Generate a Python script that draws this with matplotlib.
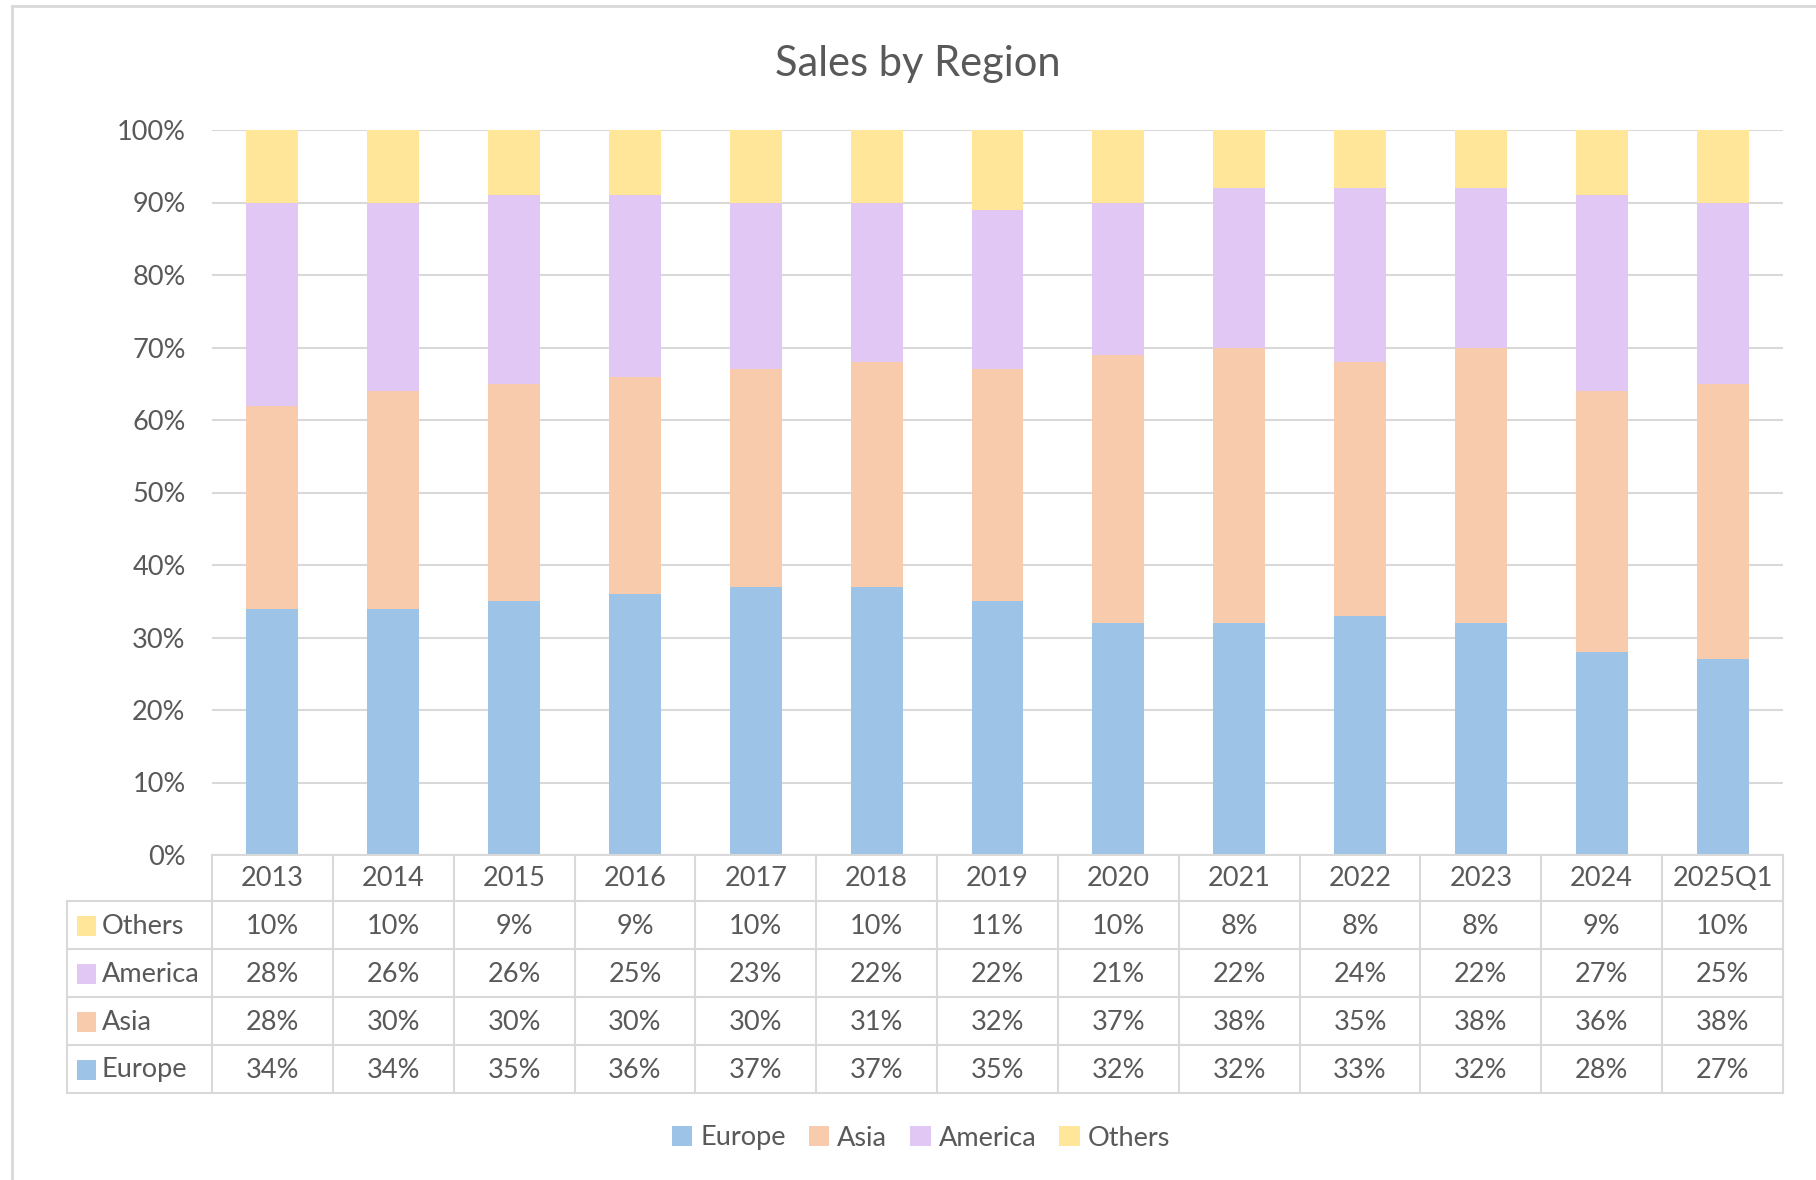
import matplotlib.pyplot as plt
from matplotlib.patches import Rectangle
from matplotlib.lines import Line2D

years = ["2013", "2014", "2015", "2016", "2017", "2018", "2019",
         "2020", "2021", "2022", "2023", "2024", "2025Q1"]
europe = [34, 34, 35, 36, 37, 37, 35, 32, 32, 33, 32, 28, 27]
asia = [28, 30, 30, 30, 30, 31, 32, 37, 38, 35, 38, 36, 38]
america = [28, 26, 26, 25, 23, 22, 22, 21, 22, 24, 22, 27, 25]
others = [10, 10, 9, 9, 10, 10, 11, 10, 8, 8, 8, 9, 10]

series = [("Europe", europe, "#9DC3E6"),
          ("Asia", asia, "#F8CBAD"),
          ("America", america, "#E1C7F3"),
          ("Others", others, "#FFE699")]

plt.rcParams["font.family"] = ["Lato", "DejaVu Sans"]
TEXT = "#595959"
GRID = "#D9D9D9"
FS = 19.5

W, H = 1816, 1180
fig = plt.figure(figsize=(W / 100, H / 100), dpi=100)


def fx(px):
    return px / W


def fy(py):
    return 1 - py / H


# outer chart border (top and left visible)
fig.add_artist(Line2D([fx(12), fx(12)], [fy(6), fy(1185)], color=GRID, lw=2))
fig.add_artist(Line2D([fx(12), fx(1820)], [fy(6), fy(6)], color=GRID, lw=2))

# plot area
left, right, top, bottom = 212, 1783, 130, 855
ax = fig.add_axes([fx(left), fy(bottom), fx(right - left), (bottom - top) / H])

n = len(years)
x = list(range(n))
base = [0] * n
for name, vals, col in series:
    ax.bar(x, vals, bottom=base, width=0.43, color=col, label=name, zorder=2)
    base = [b + v for b, v in zip(base, vals)]

ax.set_xlim(-0.5, n - 0.5)
ax.set_ylim(0, 100)
ax.set_yticks(range(0, 101, 10))
ax.set_yticklabels([f"{t}%" for t in range(0, 101, 10)], fontsize=FS, color=TEXT)
ax.set_xticks([])
ax.tick_params(axis="y", length=0, pad=19)
ax.grid(axis="y", color=GRID, lw=1.5, zorder=0)
for s in ax.spines.values():
    s.set_visible(False)

fig.text(fx(918), fy(64), "Sales by Region", ha="center", va="center",
         fontsize=30, color=TEXT)

# data table under the plot
label_left = 67
unit = (right - left) / n
row_edges = [855, 901, 949, 997, 1045, 1093]
tab_lw = 1.5


def col_x(i):
    return left + i * unit


def hline(x0, x1, y):
    fig.add_artist(Line2D([fx(x0), fx(x1)], [fy(y), fy(y)], color=GRID, lw=tab_lw))


def vline(x, y0, y1):
    fig.add_artist(Line2D([fx(x), fx(x)], [fy(y0), fy(y1)], color=GRID, lw=tab_lw))


hline(left, right, row_edges[0])
for y in row_edges[1:]:
    hline(label_left, right, y)
vline(label_left, row_edges[1], row_edges[-1])
for i in range(n + 1):
    vline(col_x(i), row_edges[0], row_edges[-1])

for i, yr in enumerate(years):
    cy = (row_edges[0] + row_edges[1]) / 2 + 1
    fig.text(fx(col_x(i) + unit / 2), fy(cy), yr, ha="center", va="center",
             fontsize=FS, color=TEXT)

for r, (name, vals, col) in enumerate(reversed(series)):
    y0, y1 = row_edges[r + 1], row_edges[r + 2]
    cy = (y0 + y1) / 2 + 1
    fig.add_artist(Rectangle((fx(label_left + 10), fy(cy + 10)), fx(19), 20 / H,
                             color=col, lw=0))
    fig.text(fx(label_left + 35), fy(cy), name, ha="left", va="center",
             fontsize=FS, color=TEXT)
    for i, v in enumerate(vals):
        fig.text(fx(col_x(i) + unit / 2), fy(cy), f"{v}%", ha="center",
                 va="center", fontsize=FS, color=TEXT)

handles, labels = ax.get_legend_handles_labels()
fig.legend(handles, labels, loc="center", bbox_to_anchor=(fx(921), fy(1138)),
           ncol=4, frameon=False, fontsize=FS, labelcolor=TEXT,
           handlelength=0.75, handleheight=0.75, handletextpad=0.3,
           columnspacing=0.85)

fig.savefig("out.png", dpi=100, facecolor="white")
